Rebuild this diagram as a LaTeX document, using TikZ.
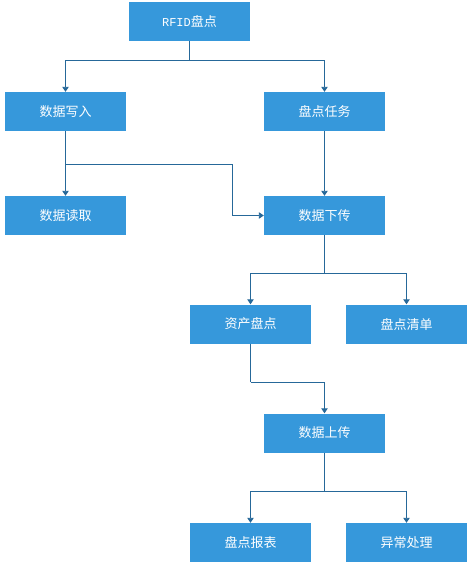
\documentclass[tikz,border=0pt]{standalone}
\usepackage{fontspec}
\newfontfamily\cjk{Noto Sans CJK SC}
\newfontfamily\monof{Liberation Mono}
\usetikzlibrary{arrows.meta}
\definecolor{boxblue}{RGB}{54,152,219}
\definecolor{lineblue}{RGB}{38,104,153}
\tikzset{
  box/.style={rectangle, fill=boxblue, draw=none, minimum width=121pt, minimum height=39pt, inner sep=0pt, text=white, font=\cjk\fontsize{13}{15}\selectfont},
  conn/.style={draw=lineblue, line width=0.9pt},
  arr/.style={conn, -{Triangle[width=6.5pt,length=5pt]}}
}
\begin{document}
\begin{tikzpicture}[x=1pt,y=-1pt]
\useasboundingbox (0,0) rectangle (474,565);
\node[box] (rfid) at (189.5,21.5) {{\monof\fontsize{12}{14}\selectfont RFID}盘点};
\node[box] (xieru) at (65.5,111.5) {数据写入};
\node[box] (renwu) at (324.5,111.5) {盘点任务};
\node[box] (duqu) at (65.5,215.5) {数据读取};
\node[box] (xiachuan) at (324.5,215.5) {数据下传};
\node[box] (zichan) at (250.5,324) {资产盘点};
\node[box] (qingdan) at (406.5,324) {盘点清单};
\node[box] (shangchuan) at (324.5,433) {数据上传};
\node[box] (baobiao) at (250.5,542.5) {盘点报表};
\node[box] (yichang) at (406.5,542.5) {异常处理};

\coordinate (s1) at (189.5,60.3);
\coordinate (s2) at (65.5,164.3);
\coordinate (s3) at (232.3,164.3);
\coordinate (s4) at (324.5,273.3);
\coordinate (s5) at (250.5,382.3);
\coordinate (s6) at (324.5,491);

\draw[conn] (rfid.south) -- (s1);
\draw[arr] (s1) -| (xieru.north);
\draw[arr] (s1) -| (renwu.north);
\draw[arr] (xieru.south) -- (duqu.north);
\draw[arr] (s2) -- (s3) |- (xiachuan.west);
\draw[arr] (renwu.south) -- (xiachuan.north);
\draw[conn] (xiachuan.south) -- (s4);
\draw[arr] (s4) -| (zichan.north);
\draw[arr] (s4) -| (qingdan.north);
\draw[conn] (zichan.south) -- (s5);
\draw[arr] (s5) -| (shangchuan.north);
\draw[conn] (shangchuan.south) -- (s6);
\draw[arr] (s6) -| (baobiao.north);
\draw[arr] (s6) -| (yichang.north);
\end{tikzpicture}
\end{document}
